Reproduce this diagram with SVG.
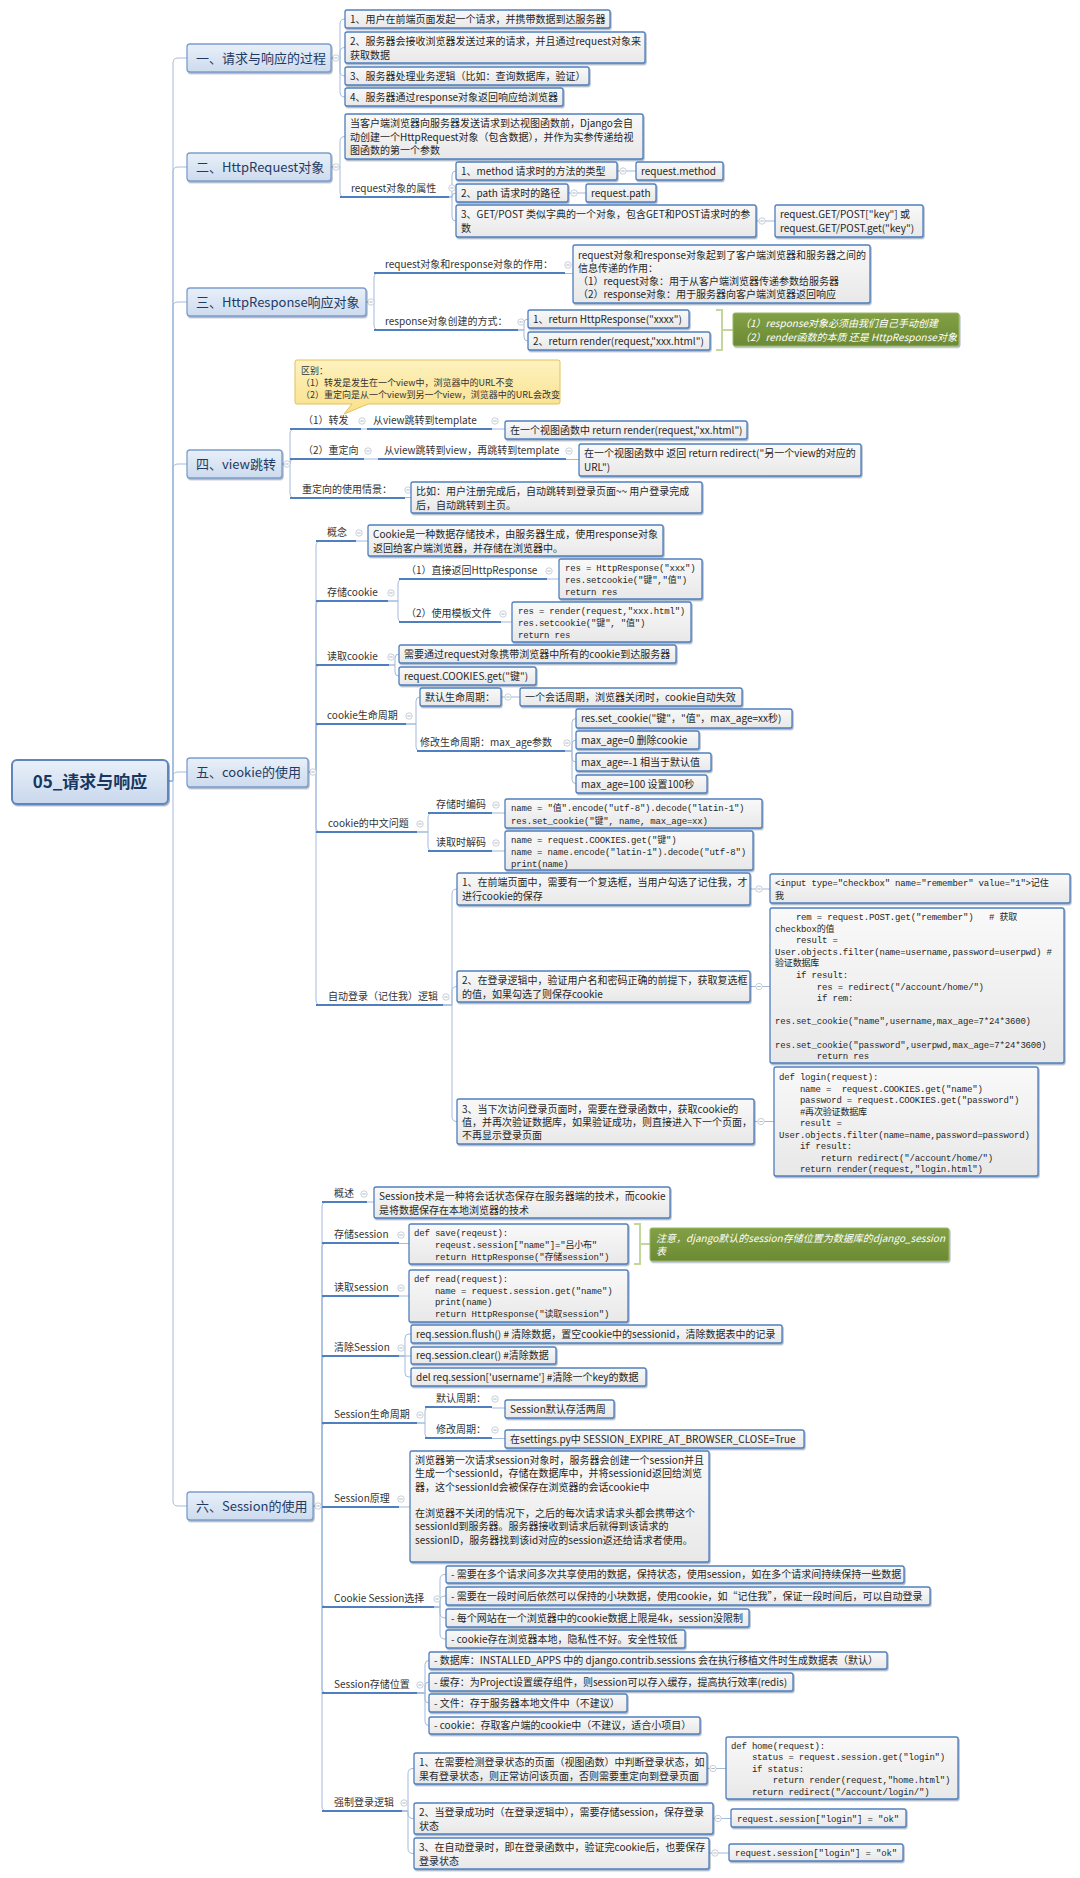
<svg xmlns="http://www.w3.org/2000/svg" width="1080" height="1878" viewBox="0 0 1080 1878">
<defs>
  <linearGradient id="gBox" x1="0" y1="0" x2="0" y2="1"><stop offset="0" stop-color="#f9f9f9"/><stop offset="1" stop-color="#e8e8e8"/></linearGradient>
  <linearGradient id="gL1" x1="0" y1="0" x2="0" y2="1"><stop offset="0" stop-color="#e8f0f9"/><stop offset="1" stop-color="#cddbee"/></linearGradient>
  <linearGradient id="gRoot" x1="0" y1="0" x2="0" y2="1"><stop offset="0" stop-color="#e9f0f9"/><stop offset="1" stop-color="#c9d8ed"/></linearGradient>
  <linearGradient id="gGreen" x1="0" y1="0" x2="0" y2="1"><stop offset="0" stop-color="#83a046"/><stop offset="1" stop-color="#6b8a33"/></linearGradient>
  <linearGradient id="gNote" x1="0" y1="0" x2="0" y2="1"><stop offset="0" stop-color="#fdf2bf"/><stop offset="1" stop-color="#f9e08a"/></linearGradient>
  <filter id="sh" x="-5%" y="-10%" width="112%" height="140%">
    <feDropShadow dx="1" dy="1.4" stdDeviation="0.7" flood-color="#3d5478" flood-opacity="0.45"/>
  </filter>
  <g id="col"><circle r="3.2" fill="#ffffff" stroke="#b9c3cf" stroke-width="0.8"/><path d="M-1.7 0H1.7" stroke="#9aa5b3" stroke-width="0.8"/></g>
</defs>
<style>
  .bx { fill: url(#gBox); stroke: #4f7fbd; stroke-width: 1.3; filter: url(#sh); }
  .l1r { fill: url(#gL1); stroke: #7c9dcc; stroke-width: 1.3; filter: url(#sh); }
  .rootr { fill: url(#gRoot); stroke: #5f85bd; stroke-width: 2; filter: url(#sh); }
  .grn { fill: url(#gGreen); stroke: #9bb760; stroke-width: 1; filter: url(#sh); }
  .note { fill: url(#gNote); stroke: #e3c15a; stroke-width: 1; }
  .tx { font-family: "Noto Sans CJK SC", "Liberation Sans", sans-serif; font-size: 10px; fill: #262626; }
  .cd { font-family: "Liberation Mono", "Noto Sans CJK SC", monospace; font-size: 9px; letter-spacing: -0.18px; fill: #262626; }
  .lb { font-family: "Noto Sans CJK SC", "Liberation Sans", sans-serif; font-size: 10px; fill: #333333; }
  .nt { font-family: "Noto Sans CJK SC", "Liberation Sans", sans-serif; font-size: 9px; fill: #333333; }
  .gt { font-family: "Noto Sans CJK SC", "Liberation Sans", sans-serif; font-size: 10px; font-style: italic; fill: #ffffff; }
  .l1t { font-family: "Noto Sans CJK SC", "Liberation Sans", sans-serif; font-size: 13px; fill: #1f3a63; }
  .rt { font-family: "Noto Sans CJK SC", "Liberation Sans", sans-serif; font-size: 17px; font-weight: bold; fill: #17375e; }
  .cn { fill: none; stroke: #a3bbdd; stroke-width: 1; }
  .ul { fill: none; stroke: #4f7fc0; stroke-width: 2; }
  .brk { fill: none; stroke: #c3d69b; stroke-width: 2; }
</style>
<rect width="1080" height="1878" fill="#ffffff"/>

<!-- connectors -->
<g id="connectors">
  <!-- root to sections -->
  <path class="cn" d="M168 781 H173 V63 Q173 58 178 58 H187"/>
  <path class="cn" d="M168 781 H173 V172 Q173 167 178 167 H187"/>
  <path class="cn" d="M168 781 H173 V307 Q173 302 178 302 H187"/>
  <path class="cn" d="M168 781 H173 V469 Q173 464 178 464 H187"/>
  <path class="cn" d="M168 781 H173 V777 Q173 772 178 772 H187"/>
  <path class="cn" d="M168 781 H173 V1501 Q173 1506 178 1506 H187"/>
  <!-- section 1 -->
  <path class="cn" d="M331 58 H340 V24 Q340 19 345 19"/>
  <path class="cn" d="M331 58 H340 V52.5 Q340 47.5 345 47.5"/>
  <path class="cn" d="M331 58 H340 V71 Q340 76 345 76"/>
  <path class="cn" d="M331 58 H340 V92 Q340 97 345 97"/>
  <!-- section 2 -->
  <path class="cn" d="M331 167 H340 V141.5 Q340 136.5 345 136.5"/>
  <path class="cn" d="M331 167 H340 V192 Q340 197 345 197"/>
  <path class="cn" d="M449 197 H452 V175 Q452 171 456 171"/>
  <path class="cn" d="M449 197 H452 V197 Q452 193 456 193"/>
  <path class="cn" d="M449 197 H452 V217 Q452 221 456 221"/>
  <path class="cn" d="M617 171 H636"/>
  <path class="cn" d="M568 193 H586"/>
  <path class="cn" d="M756 221 H775"/>
  <!-- section 3 -->
  <path class="cn" d="M366 302 H374 V278 Q374 273 379 273"/>
  <path class="cn" d="M366 302 H374 V325 Q374 330 379 330"/>
  <path class="cn" d="M565 273.5 H573"/>
  <path class="cn" d="M518 330 H524 V323 Q524 319 528 319"/>
  <path class="cn" d="M518 330 H524 V337 Q524 341 528 341"/>
  <path class="brk" d="M716 310 H722 V350 H716 M722 330 H733"/>
  <!-- section 4 -->
  <path class="cn" d="M282 464 H290 V434 Q290 429 295 429"/>
  <path class="cn" d="M282 464 H290 V464 Q290 459 295 459"/>
  <path class="cn" d="M282 464 H290 V493 Q290 498 295 498"/>
  <path class="cn" d="M361 429 H367"/>
  <path class="cn" d="M492 429 H505"/>
  <path class="cn" d="M364 459 H378"/>
  <path class="cn" d="M566 459.5 H579"/>
  <path class="cn" d="M405 497.5 H411"/>
  <!-- section 5 -->
  <path class="cn" d="M308 772 H316 V546 Q316 541 321 541"/>
  <path class="cn" d="M308 772 H316 V606 Q316 601 321 601"/>
  <path class="cn" d="M308 772 H316 V670 Q316 665 321 665"/>
  <path class="cn" d="M308 772 H316 V729 Q316 724 321 724"/>
  <path class="cn" d="M308 772 H316 V827 Q316 832 321 832"/>
  <path class="cn" d="M308 772 H316 V1000 Q316 1005 321 1005"/>
  <path class="cn" d="M356 541 H368"/>
  <path class="cn" d="M388 601 H398 V584 Q398 579 403 579"/>
  <path class="cn" d="M388 601 H398 V617 Q398 622 403 622"/>
  <path class="cn" d="M547 579 H559"/>
  <path class="cn" d="M501 622 H512"/>
  <path class="cn" d="M389 665 H395 V658 Q395 654 399 654"/>
  <path class="cn" d="M389 665 H395 V672 Q395 676 399 676"/>
  <path class="cn" d="M406 724 H416 V701 Q416 697 420 697"/>
  <path class="cn" d="M406 724 H416 V747 Q416 751 420 751"/>
  <path class="cn" d="M501 697 H520"/>
  <path class="cn" d="M565 751 H572 V722.5 Q572 718.5 576 718.5"/>
  <path class="cn" d="M565 751 H572 V744 Q572 740 576 740"/>
  <path class="cn" d="M565 751 H572 V758 Q572 762 576 762"/>
  <path class="cn" d="M565 751 H572 V779.5 Q572 783.5 576 783.5"/>
  <path class="cn" d="M417 832 H428 V818 Q428 813 433 813"/>
  <path class="cn" d="M417 832 H428 V846 Q428 851 433 851"/>
  <path class="cn" d="M492 813 H505"/>
  <path class="cn" d="M492 851 H505"/>
  <path class="cn" d="M443 1005 H452 V894 Q452 889 457 889"/>
  <path class="cn" d="M443 1005 H452 V991.5 Q452 986.5 457 986.5"/>
  <path class="cn" d="M443 1005 H452 V1116.5 Q452 1121.5 457 1121.5"/>
  <path class="cn" d="M750 889 H770"/>
  <path class="cn" d="M750 986.5 H770"/>
  <path class="cn" d="M754 1121.5 H774"/>
  <!-- section 6 -->
  <path class="cn" d="M313 1506 H322 V1207 Q322 1202 327 1202"/>
  <path class="cn" d="M313 1506 H322 V1248 Q322 1243 327 1243"/>
  <path class="cn" d="M313 1506 H322 V1301 Q322 1296 327 1296"/>
  <path class="cn" d="M313 1506 H322 V1361 Q322 1356 327 1356"/>
  <path class="cn" d="M313 1506 H322 V1428 Q322 1423 327 1423"/>
  <path class="cn" d="M313 1506.5 H327"/>
  <path class="cn" d="M313 1506 H322 V1602 Q322 1607 327 1607"/>
  <path class="cn" d="M313 1506 H322 V1688 Q322 1693 327 1693"/>
  <path class="cn" d="M313 1506 H322 V1806 Q322 1811 327 1811"/>
  <path class="cn" d="M367 1202 H374"/>
  <path class="cn" d="M399 1243.5 H409"/>
  <path class="brk" d="M634 1224 H640 V1264 H634 M640 1244 H650"/>
  <path class="cn" d="M399 1296 H409"/>
  <path class="cn" d="M399 1356 H405 V1338 Q405 1334 409 1334 H411"/>
  <path class="cn" d="M399 1356 H411"/>
  <path class="cn" d="M399 1356 H405 V1373 Q405 1377 409 1377 H411"/>
  <path class="cn" d="M417 1423 H425 V1411 Q425 1407 429 1407"/>
  <path class="cn" d="M417 1423 H425 V1434 Q425 1438 429 1438"/>
  <path class="cn" d="M492 1408 H505"/>
  <path class="cn" d="M492 1438.5 H505"/>
  <path class="cn" d="M399 1507 H410"/>
  <path class="cn" d="M434 1607 H440 V1579.5 Q440 1574.5 445 1574.5 H446"/>
  <path class="cn" d="M434 1607 H440 V1601 Q440 1596 445 1596 H446"/>
  <path class="cn" d="M434 1607 H440 V1613 Q440 1618 445 1618 H446"/>
  <path class="cn" d="M434 1607 H440 V1634 Q440 1639 445 1639 H446"/>
  <path class="cn" d="M417 1693 H425 V1664.5 Q425 1660.5 429 1660.5"/>
  <path class="cn" d="M417 1693 H425 V1686 Q425 1682 429 1682"/>
  <path class="cn" d="M417 1693 H425 V1699 Q425 1703 429 1703"/>
  <path class="cn" d="M417 1693 H425 V1721.5 Q425 1725.5 429 1725.5"/>
  <path class="cn" d="M402 1811 H408 V1773.5 Q408 1768.5 413 1768.5 H414"/>
  <path class="cn" d="M402 1811 H408 V1813.5 Q408 1818.5 413 1818.5 H414"/>
  <path class="cn" d="M402 1811 H408 V1848.5 Q408 1853.5 413 1853.5 H414"/>
  <path class="cn" d="M707 1768.5 H726"/>
  <path class="cn" d="M713 1818.5 H731"/>
  <path class="cn" d="M709 1853 H729"/>
  <!-- collapse markers -->
  <use href="#col" x="336" y="58"/><use href="#col" x="336" y="167"/><use href="#col" x="371" y="302"/>
  <use href="#col" x="287" y="464"/><use href="#col" x="313" y="772"/><use href="#col" x="318" y="1506"/>
  <use href="#col" x="452" y="188"/><use href="#col" x="623" y="171"/><use href="#col" x="574" y="193"/><use href="#col" x="762" y="221"/>
  <use href="#col" x="568" y="265"/><use href="#col" x="521" y="322"/>
  <use href="#col" x="362" y="421"/><use href="#col" x="495" y="421"/><use href="#col" x="368" y="451"/><use href="#col" x="569" y="451"/><use href="#col" x="408" y="490"/>
  <use href="#col" x="359" y="533"/><use href="#col" x="391" y="593"/><use href="#col" x="549" y="571"/><use href="#col" x="503" y="614"/>
  <use href="#col" x="391" y="657"/><use href="#col" x="409" y="716"/><use href="#col" x="508" y="697"/><use href="#col" x="567" y="743"/>
  <use href="#col" x="420" y="824"/><use href="#col" x="496" y="805"/><use href="#col" x="496" y="843"/>
  <use href="#col" x="446" y="997"/><use href="#col" x="759" y="889"/><use href="#col" x="759" y="986.5"/><use href="#col" x="761" y="1121.5"/>
  <use href="#col" x="364" y="1194"/><use href="#col" x="401" y="1235"/><use href="#col" x="401" y="1288"/><use href="#col" x="401" y="1348"/>
  <use href="#col" x="420" y="1415"/><use href="#col" x="495" y="1399"/><use href="#col" x="495" y="1430"/><use href="#col" x="401" y="1499"/>
  <use href="#col" x="437" y="1599"/><use href="#col" x="420" y="1685"/><use href="#col" x="404" y="1803"/>
  <use href="#col" x="713" y="1768.5"/><use href="#col" x="718" y="1818.5"/><use href="#col" x="715" y="1853"/>
</g>

<!-- root -->
<g id="root">
  <rect class="rootr" x="12" y="760" width="156" height="44" rx="5"/>
  <text class="rt" x="90" y="788" text-anchor="middle">05_请求与响应</text>
</g>

<!-- section 1: request / response process -->
<g id="sec1">
  <rect class="l1r" x="187" y="44" width="144" height="28" rx="3"/>
  <text class="l1t" x="196" y="62.5">一、请求与响应的过程</text>
</g>
<g id="sec1-a1"><rect class="bx" x="345" y="10" width="265" height="18" rx="2"/><text class="tx" x="350" y="22.5">1、用户在前端页面发起一个请求，并携带数据到达服务器</text></g>
<g id="sec1-a2"><rect class="bx" x="345" y="32" width="300" height="31" rx="2"/><text class="tx"><tspan x="350" y="45">2、服务器会接收浏览器发送过来的请求，并且通过request对象来</tspan><tspan x="350" y="58.5">获取数据</tspan></text></g>
<g id="sec1-a3"><rect class="bx" x="345" y="67" width="244" height="18" rx="2"/><text class="tx" x="350" y="79.5">3、服务器处理业务逻辑（比如：查询数据库，验证）</text></g>
<g id="sec1-a4"><rect class="bx" x="345" y="88" width="218" height="18" rx="2"/><text class="tx" x="350" y="100.5">4、服务器通过response对象返回响应给浏览器</text></g>

<!-- section 2: HttpRequest -->
<g id="sec2">
  <rect class="l1r" x="187" y="153" width="144" height="28" rx="3"/>
  <text class="l1t" x="196" y="171.5">二、HttpRequest对象</text>
</g>
<g id="sec2-b1"><rect class="bx" x="345" y="114" width="298" height="45" rx="2"/><text class="tx"><tspan x="350" y="127">当客户端浏览器向服务器发送请求到达视图函数前，Django会自</tspan><tspan x="350" y="140.5">动创建一个HttpRequest对象（包含数据），并作为实参传递给视</tspan><tspan x="350" y="154">图函数的第一个参数</tspan></text></g>
<g id="sec2-b2"><text class="lb" x="351" y="192">request对象的属性</text><path class="ul" d="M340 197 H449"/></g>
<g id="sec2-b2a"><rect class="bx" x="456" y="162" width="161" height="18" rx="2"/><text class="tx" x="461" y="174.5">1、method 请求时的方法的类型</text></g>
<g id="sec2-b2a1"><rect class="bx" x="636" y="162" width="87" height="18" rx="2"/><text class="tx" x="641" y="174.5">request.method</text></g>
<g id="sec2-b2b"><rect class="bx" x="456" y="184" width="112" height="18" rx="2"/><text class="tx" x="461" y="196.5">2、path 请求时的路径</text></g>
<g id="sec2-b2b1"><rect class="bx" x="586" y="184" width="70" height="18" rx="2"/><text class="tx" x="591" y="196.5">request.path</text></g>
<g id="sec2-b2c"><rect class="bx" x="456" y="205" width="300" height="32" rx="2"/><text class="tx"><tspan x="461" y="218">3、GET/POST 类似字典的一个对象，包含GET和POST请求时的参</tspan><tspan x="461" y="231.5">数</tspan></text></g>
<g id="sec2-b2c1"><rect class="bx" x="775" y="205" width="148" height="32" rx="2"/><text class="tx"><tspan x="780" y="218">request.GET/POST["key"]  或</tspan><tspan x="780" y="231.5">request.GET/POST.get("key")</tspan></text></g>

<!-- section 3: HttpResponse -->
<g id="sec3">
  <rect class="l1r" x="187" y="288" width="179" height="28" rx="3"/>
  <text class="l1t" x="196" y="306.5">三、HttpResponse响应对象</text>
</g>
<g id="sec3-c1"><text class="lb" x="385" y="268">request对象和response对象的作用：</text><path class="ul" d="M374 273 H565"/></g>
<g id="sec3-c1a"><rect class="bx" x="573" y="245" width="297" height="58" rx="2"/><text class="tx"><tspan x="578" y="258.5">request对象和response对象起到了客户端浏览器和服务器之间的</tspan><tspan x="578" y="271.5">信息传递的作用：</tspan><tspan x="578" y="285">（1）request对象：用于从客户端浏览器传递参数给服务器</tspan><tspan x="578" y="298">（2）response对象：用于服务器向客户端浏览器返回响应</tspan></text></g>
<g id="sec3-c2"><text class="lb" x="385" y="325">response对象创建的方式：</text><path class="ul" d="M374 330 H518"/></g>
<g id="sec3-c2a"><rect class="bx" x="528" y="310" width="161" height="18" rx="2"/><text class="tx" x="533" y="322.5">1、return HttpResponse("xxxx")</text></g>
<g id="sec3-c2b"><rect class="bx" x="528" y="332" width="182" height="18" rx="2"/><text class="tx" x="533" y="344.5">2、return render(request,"xxx.html")</text></g>
<g id="sec3-note"><rect class="grn" x="733" y="313" width="226" height="33" rx="2"/><text class="gt"><tspan x="740" y="326.5">（1）response对象必须由我们自己手动创建</tspan><tspan x="740" y="340.5">（2）render函数的本质 还是 HttpResponse对象</tspan></text></g>

<!-- section 4: view redirects -->
<g id="sec4">
  <rect class="l1r" x="187" y="450" width="95" height="28" rx="3"/>
  <text class="l1t" x="196" y="468.5">四、view跳转</text>
</g>
<g id="sec4-callout">
  <path class="note" d="M297 360 H558 Q560 360 560 362 V402 Q560 404 558 404 H368 L344 414 L352 404 H297 Q295 404 295 402 V362 Q295 360 297 360 Z"/>
  <text class="nt"><tspan x="301" y="374">区别：</tspan><tspan x="301" y="386">（1）转发是发生在一个view中，浏览器中的URL不变</tspan><tspan x="301" y="398">（2）重定向是从一个view到另一个view，浏览器中的URL会改变</tspan></text>
</g>
<g id="sec4-d1"><text class="lb" x="303" y="424">（1）转发</text><path class="ul" d="M290 429 H361"/></g>
<g id="sec4-d1a"><text class="lb" x="373" y="424">从view跳转到template</text><path class="ul" d="M367 429 H492"/></g>
<g id="sec4-d1b"><rect class="bx" x="505" y="421" width="242" height="18" rx="2"/><text class="tx" x="510" y="433.5">在一个视图函数中 return render(request,"xx.html")</text></g>
<g id="sec4-d2"><text class="lb" x="303" y="454">（2）重定向</text><path class="ul" d="M290 459 H364"/></g>
<g id="sec4-d2a"><text class="lb" x="384" y="454">从view跳转到view，再跳转到template</text><path class="ul" d="M378 459 H566"/></g>
<g id="sec4-d2b"><rect class="bx" x="579" y="444" width="282" height="32" rx="2"/><text class="tx"><tspan x="584" y="457">在一个视图函数中 返回 return redirect("另一个view的对应的</tspan><tspan x="584" y="470.5">URL")</tspan></text></g>
<g id="sec4-d3"><text class="lb" x="302" y="493">重定向的使用情景：</text><path class="ul" d="M290 498 H405"/></g>
<g id="sec4-d3a"><rect class="bx" x="411" y="482" width="291" height="31" rx="2"/><text class="tx"><tspan x="416" y="495">比如：用户注册完成后，自动跳转到登录页面~~ 用户登录完成</tspan><tspan x="416" y="508.5">后，自动跳转到主页。</tspan></text></g>

<!-- section 5: cookies -->
<g id="sec5">
  <rect class="l1r" x="187" y="758" width="121" height="29" rx="3"/>
  <text class="l1t" x="196" y="777">五、cookie的使用</text>
</g>
<g id="sec5-e1"><text class="lb" x="327" y="536">概念</text><path class="ul" d="M316 541 H356"/></g>
<g id="sec5-e1a"><rect class="bx" x="368" y="525" width="295" height="31" rx="2"/><text class="tx"><tspan x="373" y="538">Cookie是一种数据存储技术，由服务器生成，使用response对象</tspan><tspan x="373" y="551.5">返回给客户端浏览器，并存储在浏览器中。</tspan></text></g>
<g id="sec5-e2"><text class="lb" x="327" y="596">存储cookie</text><path class="ul" d="M316 601 H388"/></g>
<g id="sec5-e2a"><text class="lb" x="406" y="574">（1）直接返回HttpResponse</text><path class="ul" d="M399 579 H547"/></g>
<g id="sec5-e2a1"><rect class="bx" x="559" y="559" width="143" height="40" rx="2"/><text class="cd" xml:space="preserve"><tspan x="565" y="571">res = HttpResponse("xxx")</tspan><tspan x="565" y="583">res.setcookie("键","值")</tspan><tspan x="565" y="595">return res</tspan></text></g>
<g id="sec5-e2b"><text class="lb" x="406" y="617">（2）使用模板文件</text><path class="ul" d="M399 622 H501"/></g>
<g id="sec5-e2b1"><rect class="bx" x="512" y="602" width="179" height="40" rx="2"/><text class="cd" xml:space="preserve"><tspan x="518" y="614">res = render(request,"xxx.html")</tspan><tspan x="518" y="626">res.setcookie("键", "值")</tspan><tspan x="518" y="638">return res</tspan></text></g>
<g id="sec5-e3"><text class="lb" x="327" y="660">读取cookie</text><path class="ul" d="M316 665 H389"/></g>
<g id="sec5-e3a"><rect class="bx" x="399" y="645" width="277" height="18" rx="2"/><text class="tx" x="404" y="657.5">需要通过request对象携带浏览器中所有的cookie到达服务器</text></g>
<g id="sec5-e3b"><rect class="bx" x="399" y="667" width="137" height="18" rx="2"/><text class="tx" x="404" y="679.5">request.COOKIES.get("键")</text></g>
<g id="sec5-e4"><text class="lb" x="327" y="719">cookie生命周期</text><path class="ul" d="M316 724 H406"/></g>
<g id="sec5-e4a"><rect class="bx" x="420" y="688" width="81" height="18" rx="2"/><text class="tx" x="425" y="700.5">默认生命周期：</text></g>
<g id="sec5-e4a1"><rect class="bx" x="520" y="688" width="222" height="18" rx="2"/><text class="tx" x="525" y="700.5">一个会话周期，浏览器关闭时，cookie自动失效</text></g>
<g id="sec5-e4b"><text class="lb" x="420" y="746">修改生命周期：max_age参数</text><path class="ul" d="M417 751 H565"/></g>
<g id="sec5-e4b1"><rect class="bx" x="576" y="709" width="216" height="19" rx="2"/><text class="tx" x="581" y="722">res.set_cookie("键"，"值"，max_age=xx秒)</text></g>
<g id="sec5-e4b2"><rect class="bx" x="576" y="731" width="123" height="18" rx="2"/><text class="tx" x="581" y="743.5">max_age=0 删除cookie</text></g>
<g id="sec5-e4b3"><rect class="bx" x="576" y="753" width="135" height="18" rx="2"/><text class="tx" x="581" y="765.5">max_age=-1 相当于默认值</text></g>
<g id="sec5-e4b4"><rect class="bx" x="576" y="775" width="131" height="18" rx="2"/><text class="tx" x="581" y="787.5">max_age=100 设置100秒</text></g>
<g id="sec5-e5"><text class="lb" x="328" y="827">cookie的中文问题</text><path class="ul" d="M316 832 H417"/></g>
<g id="sec5-e5a"><text class="lb" x="436" y="808">存储时编码</text><path class="ul" d="M428 813 H492"/></g>
<g id="sec5-e5a1"><rect class="bx" x="505" y="799" width="257" height="29" rx="2"/><text class="cd" xml:space="preserve"><tspan x="511" y="811">name = "值".encode("utf-8").decode("latin-1")</tspan><tspan x="511" y="823.5">res.set_cookie("键", name, max_age=xx)</tspan></text></g>
<g id="sec5-e5b"><text class="lb" x="436" y="846">读取时解码</text><path class="ul" d="M428 851 H492"/></g>
<g id="sec5-e5b1"><rect class="bx" x="505" y="831" width="248" height="39" rx="2"/><text class="cd" xml:space="preserve"><tspan x="511" y="842.5">name = request.COOKIES.get("键")</tspan><tspan x="511" y="854.5">name = name.encode("latin-1").decode("utf-8")</tspan><tspan x="511" y="866.5">print(name)</tspan></text></g>
<g id="sec5-e6"><text class="lb" x="328" y="1000">自动登录（记住我）逻辑</text><path class="ul" d="M316 1005 H443"/></g>
<g id="sec5-e6a"><rect class="bx" x="457" y="873" width="293" height="32" rx="2"/><text class="tx"><tspan x="462" y="886">1、在前端页面中，需要有一个复选框，当用户勾选了记住我，才</tspan><tspan x="462" y="899.5">进行cookie的保存</tspan></text></g>
<g id="sec5-e6a1"><rect class="bx" x="770" y="874" width="300" height="29" rx="2"/><text class="cd" xml:space="preserve"><tspan x="775" y="886">&lt;input type="checkbox" name="remember" value="1"&gt;记住</tspan><tspan x="775" y="898.5">我</tspan></text></g>
<g id="sec5-e6b"><rect class="bx" x="457" y="971" width="293" height="31" rx="2"/><text class="tx"><tspan x="462" y="984">2、在登录逻辑中，验证用户名和密码正确的前提下，获取复选框</tspan><tspan x="462" y="997.5">的值，如果勾选了则保存cookie</tspan></text></g>
<g id="sec5-e6b1"><rect class="bx" x="770" y="908" width="294" height="155" rx="2"/><text class="cd" xml:space="preserve"><tspan x="775" y="920">    rem = request.POST.get("remember")   # 获取</tspan><tspan x="775" y="931.6">checkbox的值</tspan><tspan x="775" y="943.2">    result =</tspan><tspan x="775" y="954.8">User.objects.filter(name=username,password=userpwd) #</tspan><tspan x="775" y="966.4">验证数据库</tspan><tspan x="775" y="978">    if result:</tspan><tspan x="775" y="989.6">        res = redirect("/account/home/")</tspan><tspan x="775" y="1001.2">        if rem:</tspan><tspan x="775" y="1024.4">res.set_cookie("name",username,max_age=7*24*3600)</tspan><tspan x="775" y="1047.6">res.set_cookie("password",userpwd,max_age=7*24*3600)</tspan><tspan x="775" y="1059.2">        return res</tspan></text></g>
<g id="sec5-e6c"><rect class="bx" x="457" y="1099" width="297" height="45" rx="2"/><text class="tx"><tspan x="462" y="1112.5">3、当下次访问登录页面时，需要在登录函数中，获取cookie的</tspan><tspan x="462" y="1125.5">值，并再次验证数据库，如果验证成功，则直接进入下一个页面，</tspan><tspan x="462" y="1139">不再显示登录页面</tspan></text></g>
<g id="sec5-e6c1"><rect class="bx" x="774" y="1067" width="264" height="109" rx="2"/><text class="cd" xml:space="preserve"><tspan x="779" y="1080">def login(request):</tspan><tspan x="779" y="1091.5">    name =  request.COOKIES.get("name")</tspan><tspan x="779" y="1103">    password = request.COOKIES.get("password")</tspan><tspan x="779" y="1114.5">    #再次验证数据库</tspan><tspan x="779" y="1126">    result =</tspan><tspan x="779" y="1137.5">User.objects.filter(name=name,password=password)</tspan><tspan x="779" y="1149">    if result:</tspan><tspan x="779" y="1160.5">        return redirect("/account/home/")</tspan><tspan x="779" y="1172">    return render(request,"login.html")</tspan></text></g>

<!-- section 6: sessions -->
<g id="sec6">
  <rect class="l1r" x="187" y="1492" width="126" height="28" rx="3"/>
  <text class="l1t" x="196" y="1510.5">六、Session的使用</text>
</g>
<g id="sec6-f1"><text class="lb" x="334" y="1197">概述</text><path class="ul" d="M322 1202 H367"/></g>
<g id="sec6-f1a"><rect class="bx" x="374" y="1187" width="296" height="31" rx="2"/><text class="tx"><tspan x="379" y="1200">Session技术是一种将会话状态保存在服务器端的技术，而cookie</tspan><tspan x="379" y="1213.5">是将数据保存在本地浏览器的技术</tspan></text></g>
<g id="sec6-f2"><text class="lb" x="334" y="1238">存储session</text><path class="ul" d="M322 1243 H399"/></g>
<g id="sec6-f2a"><rect class="bx" x="409" y="1224" width="219" height="40" rx="2"/><text class="cd" xml:space="preserve"><tspan x="414" y="1236">def save(reqeust):</tspan><tspan x="414" y="1248">    reqeust.session["name"]="吕小布"</tspan><tspan x="414" y="1260">    return HttpResponse("存储session")</tspan></text></g>
<g id="sec6-note"><rect class="grn" x="650" y="1228" width="299" height="33" rx="2"/><text class="gt"><tspan x="656" y="1241.5">注意，django默认的session存储位置为数据库的django_session</tspan><tspan x="656" y="1255">表</tspan></text></g>
<g id="sec6-f3"><text class="lb" x="334" y="1291">读取session</text><path class="ul" d="M322 1296 H399"/></g>
<g id="sec6-f3a"><rect class="bx" x="409" y="1270" width="219" height="52" rx="2"/><text class="cd" xml:space="preserve"><tspan x="414" y="1282">def read(request):</tspan><tspan x="414" y="1293.7">    name = request.session.get("name")</tspan><tspan x="414" y="1305.4">    print(name)</tspan><tspan x="414" y="1317">    return HttpResponse("读取session")</tspan></text></g>
<g id="sec6-f4"><text class="lb" x="334" y="1351">清除Session</text><path class="ul" d="M322 1356 H399"/></g>
<g id="sec6-f4a"><rect class="bx" x="411" y="1325" width="371" height="18" rx="2"/><text class="tx" x="416" y="1337.5">req.session.flush() # 清除数据，置空cookie中的sessionid，清除数据表中的记录</text></g>
<g id="sec6-f4b"><rect class="bx" x="411" y="1347" width="145" height="17" rx="2"/><text class="tx" x="416" y="1359">req.session.clear() #清除数据</text></g>
<g id="sec6-f4c"><rect class="bx" x="411" y="1368" width="235" height="18" rx="2"/><text class="tx" x="416" y="1380.5">del req.session['username'] #清除一个key的数据</text></g>
<g id="sec6-f5"><text class="lb" x="334" y="1418">Session生命周期</text><path class="ul" d="M322 1423 H417"/></g>
<g id="sec6-f5a"><text class="lb" x="436" y="1402">默认周期：</text><path class="ul" d="M425 1407 H492"/></g>
<g id="sec6-f5a1"><rect class="bx" x="505" y="1400" width="109" height="18" rx="2"/><text class="tx" x="510" y="1412.5">Session默认存活两周</text></g>
<g id="sec6-f5b"><text class="lb" x="436" y="1433">修改周期：</text><path class="ul" d="M425 1438 H492"/></g>
<g id="sec6-f5b1"><rect class="bx" x="505" y="1430" width="299" height="18" rx="2"/><text class="tx" x="510" y="1442.5">在settings.py中 SESSION_EXPIRE_AT_BROWSER_CLOSE=True</text></g>
<g id="sec6-f6"><text class="lb" x="334" y="1502">Session原理</text><path class="ul" d="M322 1507 H399"/></g>
<g id="sec6-f6a"><rect class="bx" x="410" y="1451" width="299" height="111" rx="2"/><text class="tx"><tspan x="415" y="1463.5">浏览器第一次请求session对象时，服务器会创建一个session并且</tspan><tspan x="415" y="1477">生成一个sessionId，存储在数据库中，并将sessionid返回给浏览</tspan><tspan x="415" y="1490.5">器，这个sessionId会被保存在浏览器的会话cookie中</tspan><tspan x="415" y="1517">在浏览器不关闭的情况下，之后的每次请求请求头都会携带这个</tspan><tspan x="415" y="1530">sessionId到服务器。服务器接收到请求后就得到该请求的</tspan><tspan x="415" y="1543.5">sessionID，服务器找到该id对应的session返还给请求者使用。</tspan></text></g>
<g id="sec6-f7"><text class="lb" x="334" y="1602">Cookie Session选择</text><path class="ul" d="M322 1607 H434"/></g>
<g id="sec6-f7a"><rect class="bx" x="446" y="1566" width="458" height="17" rx="2"/><text class="tx" x="451" y="1578">- 需要在多个请求间多次共享使用的数据，保持状态，使用session，如在多个请求间持续保持一些数据</text></g>
<g id="sec6-f7b"><rect class="bx" x="446" y="1587" width="484" height="18" rx="2"/><text class="tx" x="451" y="1599.5">- 需要在一段时间后依然可以保持的小块数据，使用cookie，如“记住我”，保证一段时间后，可以自动登录</text></g>
<g id="sec6-f7c"><rect class="bx" x="446" y="1609" width="303" height="18" rx="2"/><text class="tx" x="451" y="1621.5">- 每个网站在一个浏览器中的cookie数据上限是4k，session没限制</text></g>
<g id="sec6-f7d"><rect class="bx" x="446" y="1630" width="239" height="18" rx="2"/><text class="tx" x="451" y="1642.5">- cookie存在浏览器本地，隐私性不好。安全性较低</text></g>
<g id="sec6-f8"><text class="lb" x="334" y="1688">Session存储位置</text><path class="ul" d="M322 1693 H417"/></g>
<g id="sec6-f8a"><rect class="bx" x="429" y="1652" width="458" height="17" rx="2"/><text class="tx" x="434" y="1664">- 数据库：INSTALLED_APPS 中的 django.contrib.sessions 会在执行移植文件时生成数据表（默认）</text></g>
<g id="sec6-f8b"><rect class="bx" x="429" y="1673" width="364" height="18" rx="2"/><text class="tx" x="434" y="1685.5">- 缓存：为Project设置缓存组件，则session可以存入缓存，提高执行效率(redis)</text></g>
<g id="sec6-f8c"><rect class="bx" x="429" y="1694" width="198" height="18" rx="2"/><text class="tx" x="434" y="1706.5">- 文件：存于服务器本地文件中（不建议）</text></g>
<g id="sec6-f8d"><rect class="bx" x="429" y="1717" width="271" height="17" rx="2"/><text class="tx" x="434" y="1729">- cookie：存取客户端的cookie中（不建议，适合小项目）</text></g>
<g id="sec6-f9"><text class="lb" x="334" y="1806">强制登录逻辑</text><path class="ul" d="M322 1811 H402"/></g>
<g id="sec6-f9a"><rect class="bx" x="414" y="1753" width="293" height="31" rx="2"/><text class="tx"><tspan x="419" y="1766">1、在需要检测登录状态的页面（视图函数）中判断登录状态，如</tspan><tspan x="419" y="1779.5">果有登录状态，则正常访问该页面，否则需要重定向到登录页面</tspan></text></g>
<g id="sec6-f9a1"><rect class="bx" x="726" y="1737" width="232" height="62" rx="2"/><text class="cd" xml:space="preserve"><tspan x="731" y="1748.5">def home(request):</tspan><tspan x="731" y="1760">    status = request.session.get("login")</tspan><tspan x="731" y="1771.5">    if status:</tspan><tspan x="731" y="1783">        return render(request,"home.html")</tspan><tspan x="731" y="1794.5">    return redirect("/account/login/")</tspan></text></g>
<g id="sec6-f9b"><rect class="bx" x="414" y="1803" width="299" height="31" rx="2"/><text class="tx"><tspan x="419" y="1816">2、当登录成功时（在登录逻辑中），需要存储session，保存登录</tspan><tspan x="419" y="1829.5">状态</tspan></text></g>
<g id="sec6-f9b1"><rect class="bx" x="731" y="1809" width="175" height="18" rx="2"/><text class="cd" x="737" y="1821.5">request.session["login"] = "ok"</text></g>
<g id="sec6-f9c"><rect class="bx" x="414" y="1838" width="295" height="31" rx="2"/><text class="tx"><tspan x="419" y="1851">3、在自动登录时，即在登录函数中，验证完cookie后，也要保存</tspan><tspan x="419" y="1864.5">登录状态</tspan></text></g>
<g id="sec6-f9c1"><rect class="bx" x="729" y="1844" width="174" height="17" rx="2"/><text class="cd" x="735" y="1856">request.session["login"] = "ok"</text></g>
</svg>
